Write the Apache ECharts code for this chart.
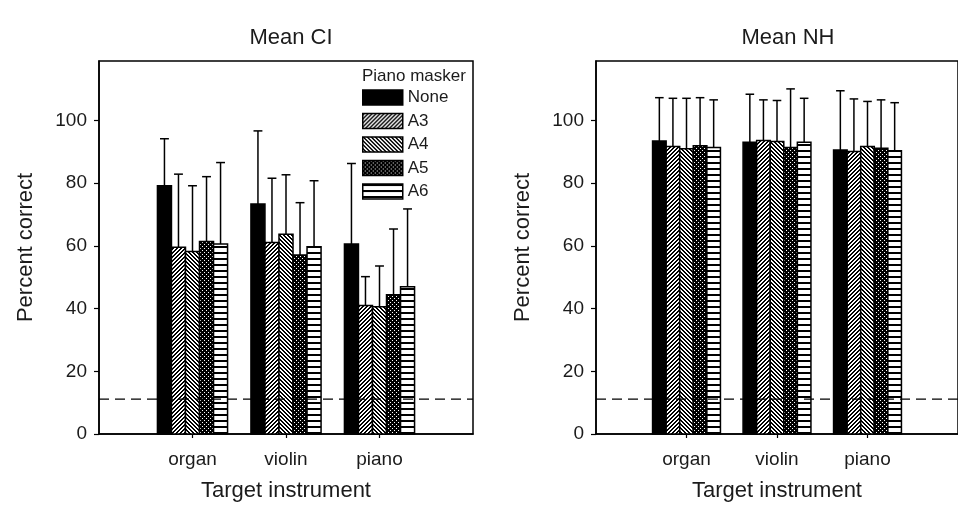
<!DOCTYPE html>
<html>
<head>
<meta charset="utf-8">
<script src="https://cdn.jsdelivr.net/npm/echarts@6/dist/echarts.min.js"></script>
<style>
  html, body { margin: 0; padding: 0; background: #fff; }
  #chart { width: 958px; height: 513px; }
</style>
</head>
<body>
<div id="chart"></div>
<script>
// Target instruments (x categories) and piano masker conditions (series)
const categories = ['organ', 'violin', 'piano'];
const maskers = ['None', 'A3', 'A4', 'A5', 'A6'];
const yTicks = [0, 20, 40, 60, 80, 100];
const chanceLevel = 11.11;

// Cochlear-implant listeners: mean percent correct per masker, [organ, violin, piano]
const ciNone = [79.2, 73.4, 60.6];
const ciA3   = [59.6, 61.1, 41.0];
const ciA4   = [58.2, 63.7, 40.6];
const ciA5   = [61.4, 57.1, 44.4];
const ciA6   = [60.6, 59.7, 47.0];
// CI standard deviations
const ciNoneSd = [15.0, 23.3, 25.7];
const ciA3Sd   = [23.3, 20.5, 9.2];
const ciA4Sd   = [21.0, 19.0, 13.0];
const ciA5Sd   = [20.7, 16.7, 21.0];
const ciA6Sd   = [26.0, 21.1, 24.8];

// Normal-hearing listeners
const nhNone = [93.5, 93.1, 90.6];
const nhA3   = [91.7, 93.6, 90.1];
const nhA4   = [91.0, 93.3, 91.7];
const nhA5   = [92.0, 91.4, 91.2];
const nhA6   = [91.4, 93.1, 90.4];
const nhNoneSd = [13.8, 15.3, 18.9];
const nhA3Sd   = [15.4, 13.0, 16.8];
const nhA4Sd   = [16.1, 13.1, 14.4];
const nhA5Sd   = [15.3, 18.7, 15.4];
const nhA6Sd   = [15.2, 14.0, 15.3];

const ciMeans = [ciNone, ciA3, ciA4, ciA5, ciA6];
const ciSds = [ciNoneSd, ciA3Sd, ciA4Sd, ciA5Sd, ciA6Sd];
const nhMeans = [nhNone, nhA3, nhA4, nhA5, nhA6];
const nhSds = [nhNoneSd, nhA3Sd, nhA4Sd, nhA5Sd, nhA6Sd];

const FONT = '"Liberation Sans", Arial, sans-serif';
const INK = '#1b1b1b';

// ---- fill patterns (pixel tiles) ----------------------------------------
function makeTile(w, h, isInk) {
  const c = document.createElement('canvas');
  c.width = w; c.height = h;
  const g = c.getContext('2d');
  const img = g.createImageData(w, h);
  for (let y = 0; y < h; y++) {
    for (let x = 0; x < w; x++) {
      const v = isInk(x, y) ? 0 : 255;
      const i = (y * w + x) * 4;
      img.data[i] = img.data[i + 1] = img.data[i + 2] = v;
      img.data[i + 3] = 255;
    }
  }
  g.putImageData(img, 0, 0);
  return { image: c, repeat: 'repeat' };
}
const fills = [
  '#000',
  makeTile(4, 4, (x, y) => (x + y) % 4 < 2),             // forward diagonal
  makeTile(4, 4, (x, y) => (x - y + 8) % 4 < 2),         // backward diagonal
  makeTile(4, 4, (x, y) => !((x % 4 === 0 && y % 4 === 0) || (x % 4 === 2 && y % 4 === 2))), // dense dots
  makeTile(4, 6, (x, y) => y < 2)                        // horizontal lines
];

// ---- bar + upper error bar drawn through the axis scales ----------------
const BAR_W = 0.15;   // bar width in x-axis units
const CAP_W = 0.095;  // error-bar cap width in x-axis units

function barRenderer(slot) {
  return function (params, api) {
    const cat = api.value(0), mean = api.value(1), sd = api.value(2);
    const xc = cat + (slot - (maskers.length - 1) / 2) * BAR_W;
    const tl = api.coord([xc - BAR_W / 2, mean]);
    const br = api.coord([xc + BAR_W / 2, 0]);
    const mid = api.coord([xc, mean + sd]);
    const capL = api.coord([xc - CAP_W / 2, mean + sd]);
    const capR = api.coord([xc + CAP_W / 2, mean + sd]);
    const line = { stroke: '#000', lineWidth: 1.5 };
    return {
      type: 'group',
      children: [
        { type: 'line', shape: { x1: mid[0], y1: tl[1], x2: mid[0], y2: mid[1] }, style: line },
        { type: 'line', shape: { x1: capL[0], y1: capL[1], x2: capR[0], y2: capR[1] }, style: line },
        { type: 'rect',
          shape: { x: tl[0], y: tl[1], width: br[0] - tl[0], height: br[1] - tl[1] },
          style: { fill: fills[slot], stroke: '#000', lineWidth: 1.5 } }
      ]
    };
  };
}

function panelSeries(means, sds, axisIdx) {
  const list = maskers.map((name, s) => ({
    name: name,
    type: 'custom',
    xAxisIndex: axisIdx,
    yAxisIndex: axisIdx,
    itemStyle: { color: fills[s], borderColor: '#000', borderWidth: 1.5 },
    renderItem: barRenderer(s),
    data: categories.map((c, i) => [i + 1, means[s][i], sds[s][i]]),
    z: 3,
    silent: true
  }));
  list.push({
    type: 'line',
    xAxisIndex: axisIdx,
    yAxisIndex: axisIdx,
    data: [[0, chanceLevel], [categories.length + 1, chanceLevel]],
    symbol: 'none',
    lineStyle: { color: '#000', width: 1.2, type: [10, 6] },
    z: 5,
    silent: true
  });
  return list;
}

function xAxis(gridIndex) {
  return {
    type: 'value', gridIndex: gridIndex,
    min: 0, max: categories.length + 1,
    name: 'Target instrument', nameLocation: 'middle', nameGap: 46,
    nameTextStyle: { fontFamily: FONT, fontSize: 22, color: INK },
    axisLine: { show: true, lineStyle: { color: '#000', width: 1.5 } },
    axisTick: { show: true, customValues: [1, 2, 3], length: 4, lineStyle: { color: '#000', width: 1.2 } },
    axisLabel: {
      customValues: [1, 2, 3], margin: 16,
      formatter: v => categories[Math.round(v) - 1] || '',
      fontFamily: FONT, fontSize: 19, color: INK
    },
    splitLine: { show: false }
  };
}
function yAxis(gridIndex) {
  return {
    type: 'value', gridIndex: gridIndex,
    min: 0, max: 119, interval: 20,
    name: 'Percent correct', nameLocation: 'middle', nameGap: 62,
    nameTextStyle: { fontFamily: FONT, fontSize: 22, color: INK },
    axisLine: { show: true, lineStyle: { color: '#000', width: 1.5 } },
    axisTick: { show: true, customValues: yTicks, length: 5, lineStyle: { color: '#000', width: 1.2 } },
    axisLabel: { customValues: yTicks, margin: 12, fontFamily: FONT, fontSize: 19, color: INK },
    splitLine: { show: false }
  };
}

const chart = echarts.init(document.getElementById('chart'), null, { renderer: 'canvas' });
chart.setOption({
  animation: false,
  backgroundColor: '#fff',
  title: [
    { text: 'Mean CI', left: 286, top: 22, textAlign: 'center',
      textStyle: { fontFamily: FONT, fontSize: 22, fontWeight: 'normal', color: INK } },
    { text: 'Mean NH', left: 783, top: 22, textAlign: 'center',
      textStyle: { fontFamily: FONT, fontSize: 22, fontWeight: 'normal', color: INK } },
    { text: 'Piano masker', left: 357, top: 63,
      textStyle: { fontFamily: FONT, fontSize: 17, fontWeight: 'normal', color: INK } }
  ],
  grid: [
    { left: 99, top: 61, width: 374, height: 373, show: true, borderColor: '#000', borderWidth: 1.5, backgroundColor: 'transparent' },
    { left: 596, top: 61, width: 374, height: 373, show: true, borderColor: '#000', borderWidth: 1.5, backgroundColor: 'transparent' }
  ],
  legend: {
    orient: 'vertical', left: 357, top: 84,
    itemWidth: 40, itemHeight: 15, itemGap: 6.5,
    selectedMode: false,
    textStyle: { fontFamily: FONT, fontSize: 17, color: INK },
    data: maskers.map((m, s) => ({
      name: m, icon: 'rect',
      itemStyle: { color: fills[s], borderColor: '#000', borderWidth: 1.5 }
    }))
  },
  xAxis: [xAxis(0), xAxis(1)],
  yAxis: [yAxis(0), yAxis(1)],
  series: panelSeries(ciMeans, ciSds, 0).concat(panelSeries(nhMeans, nhSds, 1))
});
</script>
</body>
</html>
